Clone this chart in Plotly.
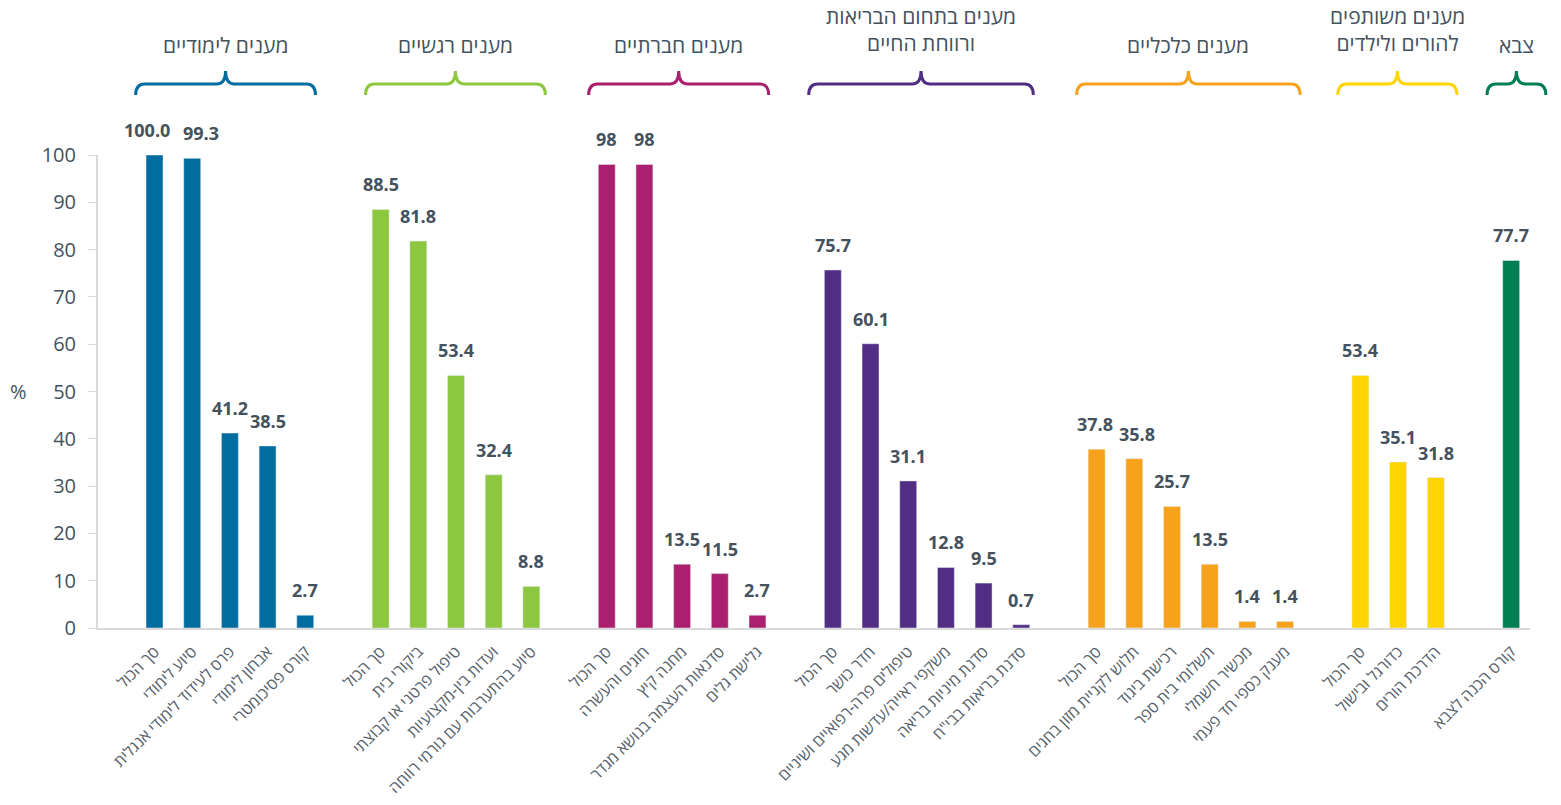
import plotly.graph_objects as go

# ---- data ----
group_titles = ["מענים לימודיים", "מענים רגשיים", "מענים חברתיים",
                "מענים בתחום הבריאות<br>ורווחת החיים", "מענים כלכליים",
                "מענים משותפים<br>להורים ולילדים", "צבא"]
group_colors = ["#006CA0", "#8DC63F", "#AA1F6E", "#522D84", "#F7A21B", "#FFD400", "#007F52"]

labels_learning = ["סך הכול", "סיוע לימודי", "פרס לעידוד לימודי אנגלית", "אבחון לימודי", "קורס פסיכומטרי"]
values_learning = [100.0, 99.3, 41.2, 38.5, 2.7]
text_learning = ["100.0", "99.3", "41.2", "38.5", "2.7"]

labels_emotional = ["סך הכול", "ביקורי בית", "טיפול פרטני או קבוצתי", "ועדות בין-מקצועיות", "סיוע בהתערבות עם גורמי רווחה"]
values_emotional = [88.5, 81.8, 53.4, 32.4, 8.8]
text_emotional = ["88.5", "81.8", "53.4", "32.4", "8.8"]

labels_social = ["סך הכול", "חוגים והעשרה", "מחנה קיץ", "סדנאות העצמה בנושא מגדר", "גלישת גלים"]
values_social = [98, 98, 13.5, 11.5, 2.7]
text_social = ["98", "98", "13.5", "11.5", "2.7"]

labels_health = ["סך הכול", "חדר כושר", "טיפולים פרה-רפואיים ושיניים", "משקפי ראייה/עדשות מגע", "סדנת מיניות בריאה", "סדנת בריאות בבי\"ח"]
values_health = [75.7, 60.1, 31.1, 12.8, 9.5, 0.7]
text_health = ["75.7", "60.1", "31.1", "12.8", "9.5", "0.7"]

labels_economic = ["סך הכול", "תלוש לקניית מזון בחגים", "רכישת ביגוד", "תשלומי בית ספר", "מכשיר חשמלי", "מענק כספי חד פעמי"]
values_economic = [37.8, 35.8, 25.7, 13.5, 1.4, 1.4]
text_economic = ["37.8", "35.8", "25.7", "13.5", "1.4", "1.4"]

labels_shared = ["סך הכול", "כדורגל ובישול", "הדרכת הורים"]
values_shared = [53.4, 35.1, 31.8]
text_shared = ["53.4", "35.1", "31.8"]

labels_army = ["קורס הכנה לצבא"]
values_army = [77.7]
text_army = ["77.7"]

y_ticks = [0, 10, 20, 30, 40, 50, 60, 70, 80, 90, 100]

groups = [
    (labels_learning, values_learning, text_learning),
    (labels_emotional, values_emotional, text_emotional),
    (labels_social, values_social, text_social),
    (labels_health, values_health, text_health),
    (labels_economic, values_economic, text_economic),
    (labels_shared, values_shared, text_shared),
    (labels_army, values_army, text_army),
]

# brace padding (in category units) left/right of each group's first/last bar
brace_pad = [(-0.5, 0.27), (-0.4, 0.37), (-0.48, 0.3), (-0.64, 0.32),
             (-0.53, 0.4), (-0.6, 0.56), (-0.64, 0.92)]
# horizontal nudges (px) of value labels, keyed by (group, bar) to avoid overlaps
label_nudge = {(0, 0): -8, (0, 1): 9, (4, 0): -2, (4, 1): 3}

FONT = "Open Sans, Liberation Sans, DejaVu Sans, sans-serif"
TXT = "#44525E"

fig = go.Figure()
tickvals, ticktext = [], []
spans = []
pos = 0
for gi, (labs, vals, txts) in enumerate(groups):
    xs = list(range(pos, pos + len(labs)))
    fig.add_trace(go.Bar(x=xs, y=vals, marker_color=group_colors[gi], width=0.45,
                         showlegend=False, hoverinfo="y"))
    for bi, (x, v, t) in enumerate(zip(xs, vals, txts)):
        fig.add_annotation(x=x, y=v, text="<b>%s</b>" % t, showarrow=False,
                           xanchor="center", yanchor="bottom", yshift=11,
                           xshift=label_nudge.get((gi, bi), 0),
                           font=dict(family=FONT, size=18, color=TXT))
    tickvals += xs
    ticktext += labs
    spans.append((xs[0], xs[-1]))
    pos += len(labs) + 1

x_min, x_max = -1.5, pos - 1.5
xr = x_max - x_min


def px(x):
    return (x - x_min) / xr


plot_h = 473.0
y_cusp = 1 + (628 - 71 - 473) / plot_h
y_mid = 1 + (628 - 84 - 473) / plot_h
y_end = 1 + (628 - 95 - 473) / plot_h
rx = 9 / 1432.0

for gi, (a, b) in enumerate(spans):
    x0 = px(a + brace_pad[gi][0])
    x1 = px(b + brace_pad[gi][1])
    xc = (x0 + x1) / 2
    path = (f"M {x0},{y_end} Q {x0},{y_mid} {x0 + rx},{y_mid} "
            f"L {xc - rx},{y_mid} Q {xc},{y_mid} {xc},{y_cusp} "
            f"Q {xc},{y_mid} {xc + rx},{y_mid} "
            f"L {x1 - rx},{y_mid} Q {x1},{y_mid} {x1},{y_end}")
    fig.add_shape(type="path", path=path, xref="paper", yref="paper",
                  line=dict(color=group_colors[gi], width=3))
    two = "<br>" in group_titles[gi]
    fig.add_annotation(x=xc, xref="paper", yref="paper", xanchor="center",
                       y=1 + (628 - (30 if two else 45) - 473) / plot_h,
                       text=group_titles[gi], showarrow=False, yanchor="middle",
                       font=dict(family=FONT, size=21, color=TXT))

fig.add_annotation(x=(18 - 98) / 1432.0, y=0.5, xref="paper", yref="paper",
                   xanchor="center", yanchor="middle",
                   text="%", showarrow=False, font=dict(family=FONT, size=20, color=TXT))

fig.update_layout(
    width=1561, height=805,
    margin=dict(l=98, r=31, t=155, b=177, autoexpand=False),
    plot_bgcolor="white", paper_bgcolor="white",
    font=dict(family=FONT, color=TXT),
)
fig.update_xaxes(range=[x_min, x_max], tickvals=tickvals, ticktext=ticktext,
                 tickangle=-45, showgrid=False, showline=True, linecolor="#D9D9D9",
                 linewidth=2, ticks="", zeroline=False, ticklabelstandoff=6,
                 automargin=False,
                 tickfont=dict(family=FONT, size=16, color="#56616B"))
fig.update_yaxes(range=[0, 100], tickvals=y_ticks, showgrid=False, showline=True,
                 linecolor="#D9D9D9", linewidth=2, ticks="outside", ticklen=8,
                 tickcolor="#D9D9D9", zeroline=False, ticklabelstandoff=8,
                 automargin=False,
                 tickfont=dict(family=FONT, size=20, color=TXT))

fig.write_html("out.html")
